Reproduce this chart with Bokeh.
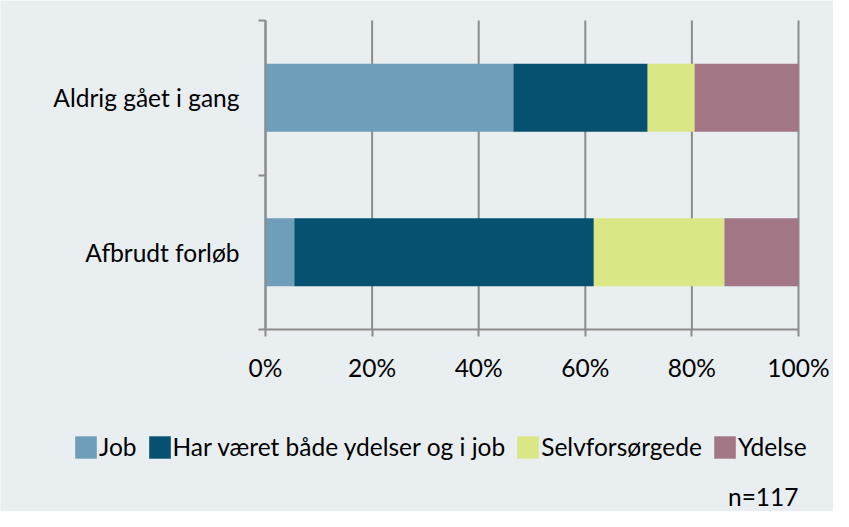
from bokeh.plotting import figure
from bokeh.models import (ColumnDataSource, Range1d, FixedTicker, Legend, LegendItem,
                          Label, PrintfTickFormatter)
from bokeh.embed import file_html
from bokeh.resources import INLINE

# ---- data ----
categories = ["Afbrudt forløb", "Aldrig gået i gang"]
series_names = ["Job", "Har været både ydelser og i job", "Selvforsørgede", "Ydelse"]
job = [5.4, 46.5]
har_vaeret = [56.2, 25.2]
selvforsoergede = [24.5, 8.8]
ydelse = [13.9, 19.5]
x_ticks = [0, 20, 40, 60, 80, 100]
note = "n=117"

# ---- style / layout ----
colors = ["#6E9EB9", "#05516F", "#D9E784", "#A37686"]
BG = "#E9EEF1"
GRID = "#8C8C8C"
FONT = "Lato"
FS = "24.5px"
W, H = 833, 511
PLOT_L, PLOT_R, PLOT_T, PLOT_B = 265, 798, 20, 329   # pixel box of the bar area
NOTE_BOTTOM_PX = 510

n_cat = len(categories)
px_per_x = (PLOT_R - PLOT_L) / 100.0
px_per_y = (PLOT_B - PLOT_T) / n_cat
x_range = Range1d(-PLOT_L / px_per_x, 100 + (W - PLOT_R) / px_per_x)
y_range = Range1d(-(H - PLOT_B) / px_per_y, n_cat + PLOT_T / px_per_y)

ypos = [i + 0.5 for i in range(n_cat)]
keys = ["job", "har", "selv", "ydelse"]
source = ColumnDataSource(dict(y=ypos, job=job, har=har_vaeret, selv=selvforsoergede, ydelse=ydelse))
grid_src = ColumnDataSource(dict(x=x_ticks, y0=[0] * len(x_ticks), y1=[n_cat] * len(x_ticks)))

p = figure(width=W, height=H, output_backend="svg", toolbar_location=None,
           x_range=x_range, y_range=y_range, min_border=0)
p.background_fill_color = BG
p.border_fill_color = BG
p.outline_line_color = None
p.grid.visible = False

# vertical gridlines (under the bars)
p.segment(x0="x", y0="y0", x1="x", y1="y1", source=grid_src, line_color=GRID, line_width=2)

renderers = p.hbar_stack(keys, y="y", height=0.44, color=colors, line_color=None, source=source)

# x axis
xa = p.xaxis[0]
xa.fixed_location = 0
xa.bounds = (0, 100)
xa.ticker = FixedTicker(ticks=x_ticks)
xa.formatter = PrintfTickFormatter(format="%d%%")
xa.axis_line_color = GRID
xa.axis_line_width = 2
xa.major_tick_line_color = GRID
xa.major_tick_line_width = 2
xa.major_tick_out = 7
xa.major_tick_in = 0
xa.minor_tick_line_color = None
xa.major_label_standoff = 16
xa.major_label_text_font = FONT
xa.major_label_text_font_size = FS
xa.major_label_text_color = "#000000"

# y axis
ya = p.yaxis[0]
ya.fixed_location = 0
ya.bounds = (0, n_cat)
ya.ticker = FixedTicker(ticks=ypos, minor_ticks=list(range(n_cat + 1)))
ya.major_label_overrides = {y: c for y, c in zip(ypos, categories)}
ya.axis_line_color = GRID
ya.axis_line_width = 2
ya.major_tick_line_color = None
ya.minor_tick_line_color = GRID
ya.minor_tick_line_width = 2
ya.minor_tick_out = 7
ya.minor_tick_in = 0
ya.major_label_standoff = 19
ya.major_label_text_font = FONT
ya.major_label_text_font_size = FS
ya.major_label_text_color = "#000000"

legend = Legend(items=[LegendItem(label=n, renderers=[r]) for n, r in zip(series_names, renderers)],
                orientation="horizontal", location=(72, 50),
                border_line_color=None, background_fill_alpha=0,
                label_text_font=FONT, label_text_font_size=FS, label_text_color="#000000",
                glyph_width=27, glyph_height=28, label_standoff=0, spacing=9,
                padding=0, margin=0)
p.add_layout(legend)

p.add_layout(Label(x=100, y=-(NOTE_BOTTOM_PX - PLOT_B) / px_per_y, text=note,
                   text_align="right", text_baseline="bottom",
                   text_font=FONT, text_font_size=FS, text_color="#000000"))

open("out.html", "w").write(file_html(p, INLINE))
